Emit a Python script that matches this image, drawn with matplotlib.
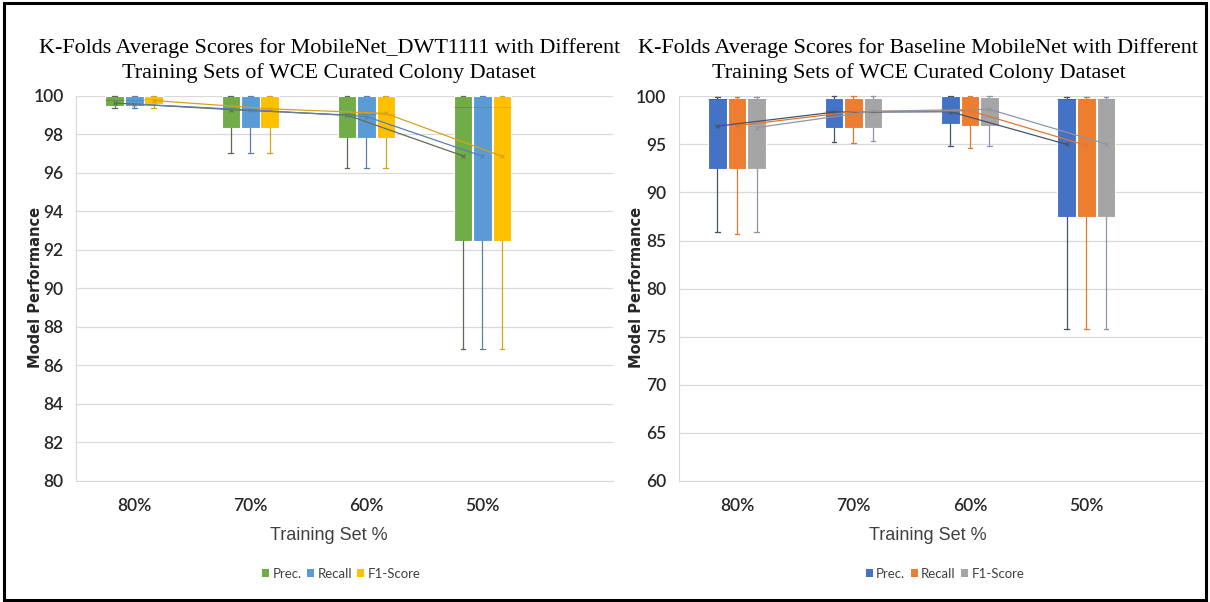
import numpy as np
import matplotlib
matplotlib.use("Agg")
import matplotlib.pyplot as plt
from matplotlib import font_manager
from matplotlib.patches import Patch, Rectangle

# ---- datos: estadisticos de los K-folds por % de entrenamiento ----
categorias = ["80%", "70%", "60%", "50%"]
series = ["Prec.", "Recall", "F1-Score"]

# MobileNet_DWT1111 (filas = Prec., Recall, F1-Score)
dwt_min = [[99.38, 97.05, 96.25, 86.85],
           [99.38, 97.05, 96.25, 86.85],
           [99.38, 97.05, 96.25, 86.85]]
dwt_q1 = [[99.48, 98.30, 97.80, 92.45],
          [99.48, 98.30, 97.80, 92.45],
          [99.57, 98.30, 97.80, 92.45]]
dwt_med = [[99.80, 99.30, 99.05, 99.40],
           [99.80, 99.30, 99.05, 99.40],
           [99.82, 99.30, 99.05, 99.40]]
dwt_q3 = [[100.0, 100.0, 100.0, 100.0],
          [100.0, 100.0, 100.0, 100.0],
          [100.0, 100.0, 100.0, 100.0]]
dwt_max = [[100.0, 100.0, 100.0, 100.0],
           [100.0, 100.0, 100.0, 100.0],
           [100.0, 100.0, 100.0, 100.0]]
dwt_mean = [[99.62, 99.28, 99.00, 96.88],
            [99.57, 99.26, 98.92, 96.86],
            [99.75, 99.32, 99.08, 96.86]]

# Baseline MobileNet
base_min = [[85.90, 95.20, 94.85, 75.80],
            [85.70, 95.10, 94.65, 75.80],
            [85.90, 95.35, 94.85, 75.80]]
base_q1 = [[92.45, 96.75, 97.10, 87.50],
           [92.45, 96.75, 96.90, 87.50],
           [92.45, 96.75, 96.95, 87.50]]
base_med = [[99.70, 98.45, 98.65, 99.75],
            [99.70, 98.45, 98.65, 99.75],
            [99.70, 98.45, 97.80, 99.75]]
base_q3 = [[99.83, 99.83, 100.0, 99.83],
           [99.83, 99.83, 100.0, 99.83],
           [99.83, 99.83, 99.95, 99.83]]
base_max = [[99.90, 100.0, 100.0, 99.95],
            [99.90, 100.0, 100.0, 99.95],
            [99.90, 100.0, 100.0, 99.95]]
base_mean = [[96.90, 98.35, 98.40, 95.00],
             [96.95, 98.40, 98.50, 94.90],
             [96.75, 98.45, 98.65, 95.05]]

# colores estilo Office
COL_DWT = ["#70AD47", "#5B9BD5", "#FFC000"]
OSC_DWT = ["#5f6b57", "#5a7fb0", "#d6a21a"]
COL_BASE = ["#4472C4", "#ED7D31", "#A5A5A5"]
OSC_BASE = ["#44546A", "#E0782E", "#8C96A8"]

disponibles = {f.name for f in font_manager.fontManager.ttflist}
NARROW = "Lato" if "Lato" in disponibles else "DejaVu Sans"
SERIF = "Liberation Serif"


def dibujar(ax, mins, q1s, meds, q3s, maxs, means, colores, oscuros, ylim, paso, xmax):
    n = len(categorias)
    ancho = 0.16
    desp = [-0.168, 0.0, 0.168]
    x = np.arange(n)
    for s in range(len(series)):
        stats = []
        for c in range(n):
            stats.append(dict(whislo=mins[s][c], q1=q1s[s][c], med=meds[s][c],
                              q3=q3s[s][c], whishi=maxs[s][c], mean=means[s][c],
                              fliers=[]))
        pos = x + desp[s]
        bp = ax.bxp(stats, positions=pos, widths=ancho, patch_artist=True,
                    showmeans=True, showfliers=False, manage_ticks=False,
                    boxprops=dict(facecolor=colores[s], edgecolor="white", linewidth=0.8),
                    whiskerprops=dict(color=oscuros[s], linewidth=0.9),
                    capprops=dict(color=oscuros[s], linewidth=0.9),
                    capwidths=0.04,
                    medianprops=dict(color=oscuros[s], linewidth=0.6, alpha=0.6),
                    meanprops=dict(marker="x", markersize=3, markeredgecolor=oscuros[s],
                                   markeredgewidth=0.8))
        for grupo in bp.values():
            for art in grupo:
                art.set_clip_on(False)
        # linea de medias entre categorias
        ax.plot(pos, means[s], color=oscuros[s], linewidth=0.9, zorder=4,
                clip_on=False)

    ax.set_xlim(-0.5, xmax)
    ax.set_ylim(*ylim)
    ax.set_yticks(np.arange(ylim[0], ylim[1] + 0.1, paso))
    ax.set_xticks(x)
    ax.set_xticklabels(categorias)
    ax.grid(axis="y", color="#d9d9d9", linewidth=0.9)
    ax.set_axisbelow(True)
    for lado in ["top", "right"]:
        ax.spines[lado].set_visible(False)
    ax.spines["left"].set_color("#d9d9d9")
    ax.spines["bottom"].set_color("#d9d9d9")
    ax.tick_params(length=0, labelsize=12.5, labelcolor="#262626")
    ax.tick_params(axis="y", pad=9)
    ax.tick_params(axis="x", pad=12)
    for t in ax.get_xticklabels() + ax.get_yticklabels():
        t.set_fontfamily(NARROW)
        t.set_fontweight("semibold")


fig = plt.figure(figsize=(12.1, 6.02), dpi=100)

ax1 = fig.add_axes([0.063, 0.201, 0.444, 0.640])
dibujar(ax1, dwt_min, dwt_q1, dwt_med, dwt_q3, dwt_max, dwt_mean,
        COL_DWT, OSC_DWT, (80, 100), 2, 4.13)

ax2 = fig.add_axes([0.561, 0.201, 0.433, 0.639])
dibujar(ax2, base_min, base_q1, base_med, base_q3, base_max, base_mean,
        COL_BASE, OSC_BASE, (60, 100), 5, 4.0)

# titulos
fig.text(0.272, 0.8995, "K-Folds Average Scores for MobileNet_DWT1111 with Different\n"
         "Training Sets of WCE Curated Colony Dataset",
         ha="center", va="center", fontsize=15.9, family=SERIF, linespacing=1.38)
fig.text(0.759, 0.8995, "K-Folds Average Scores for Baseline MobileNet with Different\n"
         "Training Sets of WCE Curated Colony Dataset",
         ha="center", va="center", fontsize=15.9, family=SERIF, linespacing=1.38)

# ejes
for xc in (0.029, 0.526):
    fig.text(xc, 0.522, "Model Performance", rotation=90, ha="center", va="center",
             fontsize=10.5, fontweight="bold", color="#262626")
for xc in (0.272, 0.767):
    fig.text(xc, 0.110, "Training Set %", ha="center", va="center",
             fontsize=13, color="#404040", family="Liberation Sans")

# leyendas
for xc, cols in ((0.282, COL_DWT), (0.781, COL_BASE)):
    handles = [Patch(facecolor=c, edgecolor="none") for c in cols]
    fig.legend(handles, series, loc="center", bbox_to_anchor=(xc, 0.047), ncol=3,
               frameon=False, handlelength=0.55, handleheight=0.65, handletextpad=0.25,
               columnspacing=0.4, prop=dict(family=NARROW, size=9.5),
               labelcolor="#404040")

# marco exterior
fig.add_artist(Rectangle((0.003, 0.004), 0.994, 0.991, transform=fig.transFigure,
                         fill=False, edgecolor="black", linewidth=2.2))

fig.savefig("out.png", dpi=100, facecolor="white")
